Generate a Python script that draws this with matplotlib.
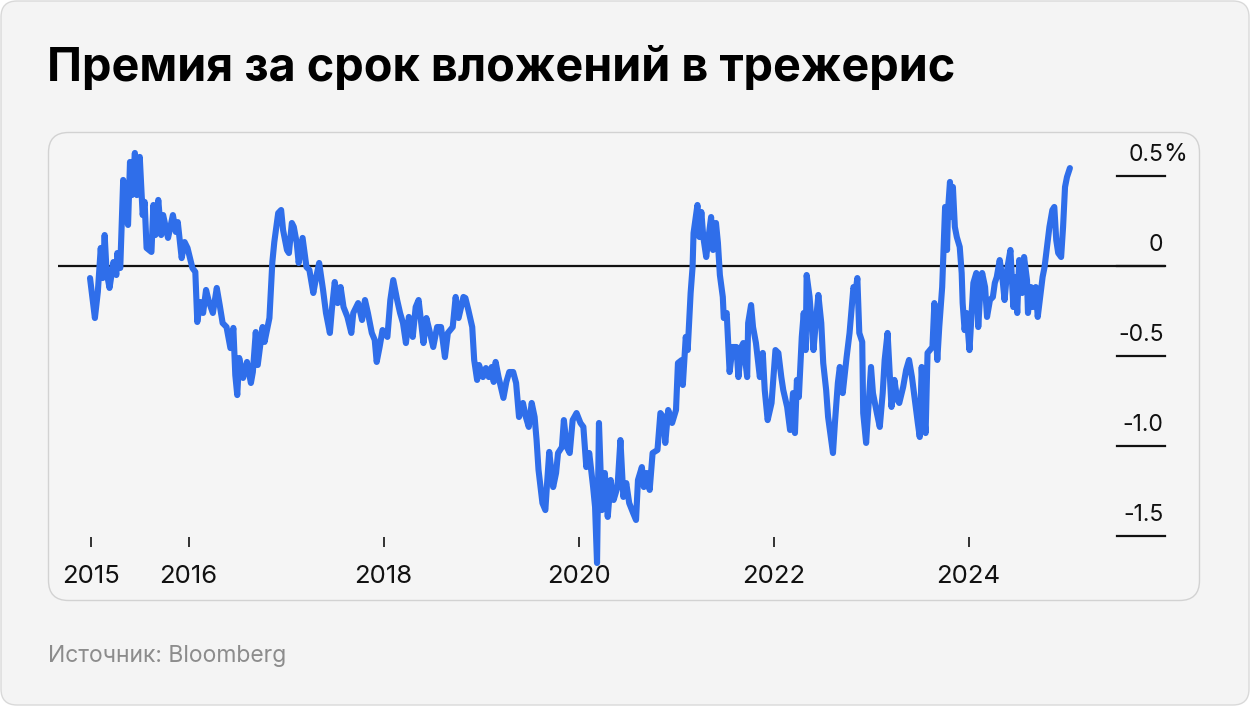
import matplotlib
matplotlib.use("Agg")
import matplotlib.pyplot as plt
import matplotlib.patches as mpatches
import matplotlib.transforms as mtransforms

plt.rcParams['font.family'] = ['Inter', 'DejaVu Sans']

# ---- data (decimal year, term premium %) ----
years = [
 2014.99, 2015.04, 2015.07, 2015.10, 2015.12, 2015.14, 2015.16, 2015.19, 2015.23, 2015.26,
 2015.27, 2015.30, 2015.33, 2015.35, 2015.38, 2015.40, 2015.42, 2015.45, 2015.47, 2015.50,
 2015.53, 2015.55, 2015.57, 2015.62, 2015.64, 2015.66, 2015.69, 2015.72, 2015.74, 2015.79,
 2015.84, 2015.87, 2015.89, 2015.93, 2015.96, 2015.99, 2016.04, 2016.07, 2016.09, 2016.12,
 2016.15, 2016.18, 2016.21, 2016.25, 2016.29, 2016.32, 2016.35, 2016.39, 2016.43, 2016.46,
 2016.48, 2016.50, 2016.52, 2016.56, 2016.60, 2016.64, 2016.66, 2016.69, 2016.71, 2016.76,
 2016.78, 2016.83, 2016.86, 2016.88, 2016.92, 2016.95, 2016.97, 2017.01, 2017.03, 2017.06,
 2017.08, 2017.11, 2017.13, 2017.17, 2017.21, 2017.24, 2017.28, 2017.31, 2017.34, 2017.38,
 2017.41, 2017.45, 2017.47, 2017.50, 2017.53, 2017.56, 2017.59, 2017.63, 2017.67, 2017.69,
 2017.74, 2017.78, 2017.81, 2017.84, 2017.88, 2017.91, 2017.93, 2017.96, 2017.99, 2018.04,
 2018.07, 2018.10, 2018.14, 2018.17, 2018.20, 2018.23, 2018.26, 2018.30, 2018.33, 2018.36,
 2018.41, 2018.44, 2018.47, 2018.51, 2018.55, 2018.59, 2018.63, 2018.66, 2018.71, 2018.74,
 2018.77, 2018.82, 2018.84, 2018.87, 2018.91, 2018.93, 2018.96, 2018.98, 2019.02, 2019.05,
 2019.08, 2019.11, 2019.13, 2019.15, 2019.18, 2019.23, 2019.26, 2019.29, 2019.33, 2019.36,
 2019.39, 2019.43, 2019.46, 2019.49, 2019.52, 2019.55, 2019.57, 2019.59, 2019.63, 2019.66,
 2019.68, 2019.70, 2019.74, 2019.77, 2019.79, 2019.83, 2019.85, 2019.88, 2019.91, 2019.94,
 2019.98, 2020.02, 2020.05, 2020.08, 2020.11, 2020.15, 2020.17, 2020.19, 2020.21, 2020.24,
 2020.27, 2020.30, 2020.33, 2020.36, 2020.40, 2020.43, 2020.46, 2020.49, 2020.52, 2020.56,
 2020.59, 2020.61, 2020.65, 2020.67, 2020.70, 2020.73, 2020.76, 2020.81, 2020.84, 2020.87,
 2020.89, 2020.92, 2020.96, 2021.00, 2021.02, 2021.06, 2021.07, 2021.10, 2021.12, 2021.15,
 2021.17, 2021.18, 2021.22, 2021.24, 2021.26, 2021.28, 2021.31, 2021.33, 2021.36, 2021.38,
 2021.41, 2021.43, 2021.45, 2021.48, 2021.49, 2021.52, 2021.55, 2021.58, 2021.62, 2021.64,
 2021.67, 2021.69, 2021.73, 2021.74, 2021.77, 2021.79, 2021.82, 2021.86, 2021.89, 2021.91,
 2021.94, 2021.98, 2022.02, 2022.05, 2022.08, 2022.10, 2022.14, 2022.17, 2022.20, 2022.22,
 2022.24, 2022.26, 2022.29, 2022.31, 2022.33, 2022.34, 2022.37, 2022.41, 2022.43, 2022.46,
 2022.49, 2022.51, 2022.54, 2022.56, 2022.61, 2022.63, 2022.66, 2022.68, 2022.71, 2022.75,
 2022.78, 2022.82, 2022.84, 2022.86, 2022.88, 2022.91, 2022.92, 2022.95, 2022.97, 2023.00,
 2023.02, 2023.06, 2023.09, 2023.12, 2023.14, 2023.17, 2023.21, 2023.24, 2023.27, 2023.29,
 2023.33, 2023.36, 2023.39, 2023.42, 2023.45, 2023.48, 2023.50, 2023.52, 2023.54, 2023.56,
 2023.58, 2023.63, 2023.65, 2023.68, 2023.70, 2023.73, 2023.74, 2023.76, 2023.78, 2023.79,
 2023.81, 2023.83, 2023.84, 2023.86, 2023.88, 2023.91, 2023.93, 2023.94, 2023.96, 2023.98,
 2024.01, 2024.04, 2024.05, 2024.08, 2024.10, 2024.12, 2024.14, 2024.17, 2024.19, 2024.22,
 2024.25, 2024.27, 2024.29, 2024.32, 2024.35, 2024.37, 2024.40, 2024.43, 2024.46, 2024.48,
 2024.50, 2024.52, 2024.55, 2024.57, 2024.60, 2024.61, 2024.64, 2024.66, 2024.69, 2024.71,
 2024.74, 2024.76, 2024.78, 2024.81, 2024.83, 2024.86, 2024.88, 2024.90, 2024.92, 2024.95,
 2024.97, 2024.99, 2025.01, 2025.04,
]
premium = [
 -0.067, -0.289, -0.144, 0.100, -0.067, 0.172, -0.033, -0.122, 0.022, -0.050,
 0.072, -0.011, 0.478, 0.300, 0.228, 0.578, 0.394, 0.628, 0.394, 0.606,
 0.283, 0.356, 0.100, 0.078, 0.339, 0.172, 0.367, 0.172, 0.283, 0.156,
 0.283, 0.189, 0.244, 0.044, 0.133, 0.100, -0.011, -0.033, -0.311, -0.200,
 -0.261, -0.133, -0.200, -0.261, -0.122, -0.217, -0.317, -0.339, -0.456, -0.344,
 -0.606, -0.717, -0.511, -0.622, -0.533, -0.650, -0.589, -0.367, -0.550, -0.339,
 -0.422, -0.289, 0.022, 0.133, 0.294, 0.311, 0.200, 0.089, 0.072, 0.239,
 0.217, 0.128, 0.017, 0.156, -0.006, -0.022, -0.150, -0.061, 0.017, -0.133,
 -0.261, -0.372, -0.244, -0.089, -0.206, -0.117, -0.228, -0.283, -0.372, -0.261,
 -0.206, -0.300, -0.189, -0.261, -0.372, -0.411, -0.533, -0.450, -0.356, -0.394,
 -0.189, -0.078, -0.189, -0.261, -0.317, -0.428, -0.283, -0.394, -0.228, -0.189,
 -0.428, -0.289, -0.356, -0.450, -0.339, -0.339, -0.506, -0.372, -0.339, -0.172,
 -0.289, -0.172, -0.178, -0.244, -0.339, -0.522, -0.633, -0.550, -0.617, -0.567,
 -0.617, -0.561, -0.644, -0.533, -0.617, -0.733, -0.644, -0.589, -0.589, -0.650,
 -0.839, -0.761, -0.839, -0.894, -0.761, -0.839, -0.967, -1.133, -1.317, -1.356,
 -1.189, -1.033, -1.228, -1.150, -1.039, -1.006, -0.856, -1.006, -1.039, -0.856,
 -0.817, -0.872, -0.894, -1.117, -1.039, -1.228, -1.339, -1.650, -0.872, -1.356,
 -1.150, -1.394, -1.189, -1.300, -1.228, -0.967, -1.283, -1.206, -1.317, -1.372,
 -1.411, -1.189, -1.117, -1.228, -1.150, -1.244, -1.039, -1.022, -0.817, -0.839,
 -0.983, -0.800, -0.872, -0.800, -0.539, -0.522, -0.661, -0.394, -0.467, -0.150,
 -0.006, 0.183, 0.339, 0.161, 0.300, 0.161, 0.050, 0.144, 0.272, 0.089,
 0.239, 0.128, -0.050, -0.172, -0.289, -0.261, -0.589, -0.450, -0.450, -0.617,
 -0.450, -0.428, -0.617, -0.317, -0.217, -0.339, -0.428, -0.617, -0.483, -0.689,
 -0.856, -0.761, -0.467, -0.483, -0.617, -0.689, -0.783, -0.911, -0.706, -0.928,
 -0.633, -0.728, -0.394, -0.261, -0.467, -0.050, -0.172, -0.467, -0.339, -0.161,
 -0.317, -0.539, -0.689, -0.839, -1.039, -0.872, -0.650, -0.561, -0.706, -0.506,
 -0.372, -0.117, -0.150, -0.067, -0.372, -0.422, -0.817, -0.983, -0.817, -0.561,
 -0.706, -0.817, -0.894, -0.706, -0.522, -0.372, -0.783, -0.633, -0.744, -0.761,
 -0.672, -0.578, -0.522, -0.617, -0.744, -0.872, -0.950, -0.561, -0.800, -0.928,
 -0.483, -0.450, -0.206, -0.522, -0.339, -0.117, 0.033, 0.328, 0.089, 0.311,
 0.467, 0.272, 0.439, 0.217, 0.161, 0.106, -0.039, -0.206, -0.356, -0.261,
 -0.467, -0.189, -0.094, -0.039, -0.339, -0.150, -0.039, -0.117, -0.283, -0.189,
 -0.172, -0.094, -0.061, 0.033, -0.078, -0.189, -0.006, 0.089, -0.228, -0.061,
 -0.261, 0.033, -0.150, 0.050, -0.078, -0.261, -0.117, -0.228, -0.117, -0.283,
 -0.150, -0.061, -0.006, 0.128, 0.217, 0.311, 0.328, 0.144, 0.072, 0.050,
 0.217, 0.439, 0.494, 0.544,
]
x_ticks = [2015, 2016, 2018, 2020, 2022, 2024]
x_labels = ['2015', '2016', '2018', '2020', '2022', '2024']
y_ticks = [0.5, 0.0, -0.5, -1.0, -1.5]
y_labels = ['0.5', '0', '-0.5', '-1.0', '-1.5']

title = 'Премия за срок вложений в трежерис'
source = 'Источник: Bloomberg'

# ---- figure ----
W, H = 1250, 706
fig = plt.figure(figsize=(W / 100, H / 100), dpi=100, facecolor='white')
ident = mtransforms.IdentityTransform()

card = mpatches.FancyBboxPatch((1, 1), W - 2, H - 2,
                               boxstyle='round,pad=0,rounding_size=16',
                               transform=ident, facecolor='#f4f4f4',
                               edgecolor='#d9d9d9', linewidth=1.0, zorder=0)
fig.add_artist(card)
panel = mpatches.FancyBboxPatch((48.5, H - 600.5), 1151, 468,
                                boxstyle='round,pad=0,rounding_size=20',
                                transform=ident, facecolor='#f5f5f5',
                                edgecolor='#d2d2d2', linewidth=1.0, zorder=0)
fig.add_artist(panel)

fig.text(47 / W, 1 - 68 / H, title, fontsize=33.7, fontweight='bold',
         color='#000000', ha='left', va='center')
fig.text(48 / W, 1 - 656 / H, source, fontsize=16.5, color='#8c8c8c',
         ha='left', va='center')

# axes: x pixels 58..1165, y pixels 140..547
left_px, right_px, top_px, bottom_px = 58, 1165, 140, 547
ax = fig.add_axes([left_px / W, 1 - bottom_px / H,
                   (right_px - left_px) / W, (bottom_px - top_px) / H])
ax.set_facecolor('none')
px_per_year = 97.5
x0 = 2015 + (left_px - 91) / px_per_year
x1 = 2015 + (right_px - 91) / px_per_year
ax.set_xlim(x0, x1)
px_per_unit = 180.0
ax.set_ylim((266 - bottom_px) / px_per_unit, (266 - top_px) / px_per_unit)

for s in ax.spines.values():
    s.set_visible(False)

ax.plot(years, premium, color='#2f6eea', linewidth=4.4, solid_joinstyle='round',
        solid_capstyle='round', clip_on=False, zorder=3)

# zero line
ax.axhline(0, color='#111111', linewidth=1.6, zorder=2)

# right-side tick lines and labels
ytr = ax.get_yaxis_transform()
tick_start = (1117 - left_px) / (right_px - left_px)
for v, lab in zip(y_ticks, y_labels):
    ax.plot([tick_start, 1.0], [v, v], transform=ytr, color='#111111',
            linewidth=1.6, clip_on=False, zorder=2)
    ax.annotate(lab, xy=(1.0, v), xycoords=ytr, xytext=(-1, 11),
                textcoords='offset points', ha='right', va='baseline',
                fontsize=16.5, color='#111111')
    if v == 0.5:
        ax.annotate('%', xy=(1.0, v), xycoords=ytr, xytext=(-1.5, 11),
                    textcoords='offset points', ha='left', va='baseline',
                    fontsize=17.5, color='#111111')

ax.set_yticks([])
ax.set_xticks(x_ticks)
ax.set_xticklabels(x_labels)
ax.tick_params(axis='x', direction='in', length=7, width=1.2, color='#111111',
               pad=13, labelsize=18.5, labelcolor='#111111')

fig.savefig('out.png', dpi=100, facecolor=fig.get_facecolor())
